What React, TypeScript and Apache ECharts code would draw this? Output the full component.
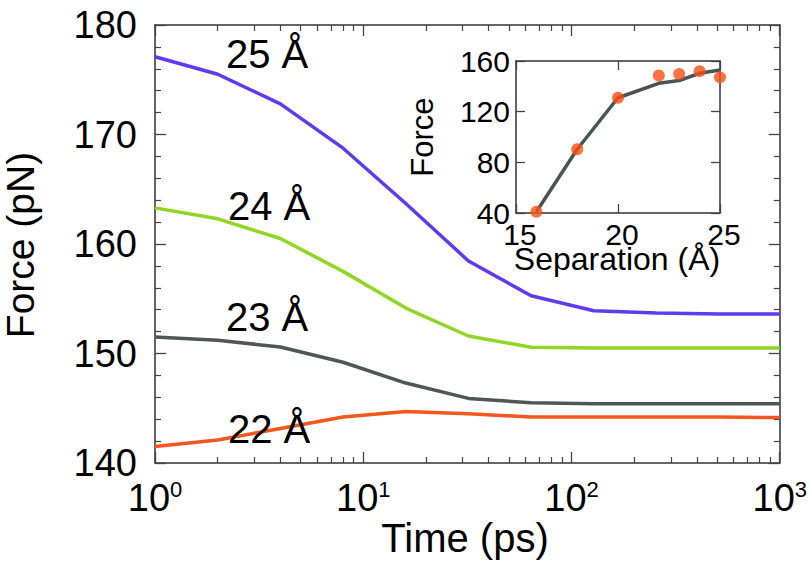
import React, { useEffect, useRef } from "react";
import * as echarts from "echarts";

const timePs = [1, 2, 4, 8, 16, 32, 64, 128, 256, 512, 1000];
const force25 = [177.1, 175.5, 172.8, 168.75, 163.7, 158.45, 155.27, 153.9, 153.7, 153.6, 153.6];
const force24 = [163.3, 162.3, 160.5, 157.5, 154.15, 151.6, 150.57, 150.5, 150.5, 150.5, 150.5];
const force23 = [151.5, 151.2, 150.6, 149.2, 147.3, 145.9, 145.5, 145.4, 145.4, 145.4, 145.4];
const force22 = [141.5, 142.1, 143.15, 144.2, 144.7, 144.5, 144.2, 144.2, 144.2, 144.2, 144.15];

const separation = [16, 18, 20, 22, 23, 24, 25];
const insetLine = [41, 90.3, 131, 142.4, 144.6, 150.3, 152.9];
const insetPoints = [41, 90.3, 131, 148.5, 149.7, 152, 147.1];

const seriesNames = ["25 Å", "24 Å", "23 Å", "22 Å"];
const seriesColors = ["#5b3cf0", "#8fd626", "#4f5756", "#f4561c"];

const FONT = "'Liberation Sans', Arial, Helvetica, sans-serif";
const AXIS_COLOR = "#333";
const TICK_COLOR = "#444";

export default function App() {
  const ref = useRef<HTMLDivElement>(null);
  useEffect(() => {
    if (!ref.current) return;
    const chart = echarts.init(ref.current, null, { renderer: "svg" });
    const mainData = [force25, force24, force23, force22];

    const logAxisBase = (position: "bottom" | "top", showLabel: boolean) => ({
      type: "log",
      logBase: 10,
      min: 1,
      max: 1000,
      gridIndex: 0,
      position,
      axisLine: { show: true, lineStyle: { color: AXIS_COLOR, width: 1.5 } },
      axisTick: { show: true, inside: true, length: 11, lineStyle: { color: TICK_COLOR, width: 1.3 } },
      minorTick: { show: true, splitNumber: 9, length: 6, lineStyle: { color: TICK_COLOR, width: 1.2 } },
      splitLine: { show: false },
      minorSplitLine: { show: false },
      axisLabel: {
        show: showLabel,
        margin: 15,
        formatter: (v: number) => `{a|10}{b|${Math.round(Math.log10(v))}}`,
        rich: {
          a: { fontSize: 38, fontFamily: FONT, color: "#000", lineHeight: 40 },
          b: { fontSize: 22, fontFamily: FONT, color: "#000", lineHeight: 30, verticalAlign: "top" },
        },
      },
    });

    const yMain = (position: "left" | "right", showLabel: boolean) => ({
      type: "value",
      min: 140,
      max: 180,
      interval: 10,
      gridIndex: 0,
      position,
      axisLine: { show: true, lineStyle: { color: AXIS_COLOR, width: 1.5 } },
      axisTick: { show: true, inside: true, length: 11, lineStyle: { color: TICK_COLOR, width: 1.3 } },
      minorTick: { show: true, splitNumber: 5, length: 6, lineStyle: { color: TICK_COLOR, width: 1.2 } },
      splitLine: { show: false },
      axisLabel: {
        show: showLabel,
        margin: 18,
        fontSize: 38,
        fontFamily: FONT,
        color: "#000",
        padding: [0, 0, 8, 0],
      },
    });

    const insetX = (position: "bottom" | "top", showLabel: boolean) => ({
      type: "value",
      min: 15,
      max: 25,
      interval: 5,
      gridIndex: 1,
      position,
      axisLine: { show: true, lineStyle: { color: AXIS_COLOR, width: 1.5 } },
      axisTick: { show: true, inside: true, length: 9, lineStyle: { color: TICK_COLOR, width: 1.3 } },
      splitLine: { show: false },
      axisLabel: {
        show: showLabel,
        margin: 6,
        fontSize: 30,
        fontFamily: FONT,
        color: "#000",
        padding: [0, 0, 0, 8],
      },
    });

    const insetY = (position: "left" | "right", showLabel: boolean) => ({
      type: "value",
      min: 40,
      max: 160,
      interval: 40,
      gridIndex: 1,
      position,
      axisLine: { show: true, lineStyle: { color: AXIS_COLOR, width: 1.5 } },
      axisTick: { show: true, inside: true, length: 9, lineStyle: { color: TICK_COLOR, width: 1.3 } },
      splitLine: { show: false },
      axisLabel: {
        show: showLabel,
        margin: 6,
        fontSize: 30,
        fontFamily: FONT,
        color: "#000",
        padding: [0, 0, 8, 0],
      },
    });

    const labelPos = [
      { x: 226, y: 54 },
      { x: 228, y: 206 },
      { x: 226, y: 317 },
      { x: 228, y: 429 },
    ];

    chart.setOption({
      animation: false,
      backgroundColor: "#fff",
      grid: [
        { left: 155, right: 30, top: 25, bottom: 100 },
        { left: 516, top: 61, width: 204, height: 152 },
      ],
      xAxis: [
        logAxisBase("bottom", true),
        logAxisBase("top", false),
        insetX("bottom", true),
        insetX("top", false),
      ],
      yAxis: [
        yMain("left", true),
        yMain("right", false),
        insetY("left", true),
        insetY("right", false),
      ],
      series: [
        ...mainData.map((d, i) => ({
          name: seriesNames[i],
          type: "line",
          xAxisIndex: 0,
          yAxisIndex: 0,
          data: timePs.map((t, j) => [t, d[j]]),
          showSymbol: false,
          symbol: "none",
          lineStyle: { color: seriesColors[i], width: 3.5 },
          z: 3,
        })),
        {
          name: "inset line",
          type: "line",
          xAxisIndex: 2,
          yAxisIndex: 2,
          data: separation.map((s, j) => [s, insetLine[j]]),
          symbol: "none",
          lineStyle: { color: "#4a5453", width: 3.5 },
          z: 4,
        },
        {
          name: "inset points",
          type: "scatter",
          xAxisIndex: 2,
          yAxisIndex: 2,
          data: separation.map((s, j) => [s, insetPoints[j]]),
          symbol: "circle",
          symbolSize: 12,
          itemStyle: { color: "#fb4f14" },
          z: 5,
        },
      ],
      graphic: [
        ...seriesNames.map((n, i) => ({
          type: "text",
          x: labelPos[i].x,
          y: labelPos[i].y,
          style: {
            text: n,
            fontSize: 40,
            fontFamily: FONT,
            fill: "#000",
            align: "left",
            verticalAlign: "middle",
          },
          z: 10,
        })),
        {
          type: "text",
          x: 20,
          y: 245,
          rotation: Math.PI / 2,
          style: {
            text: "Force (pN)",
            fontSize: 39,
            fontFamily: FONT,
            fill: "#000",
            align: "center",
            verticalAlign: "middle",
          },
        },
        {
          type: "text",
          x: 465,
          y: 538,
          style: {
            text: "Time (ps)",
            fontSize: 40,
            fontFamily: FONT,
            fill: "#000",
            align: "center",
            verticalAlign: "middle",
          },
        },
        {
          type: "text",
          x: 422,
          y: 137,
          rotation: Math.PI / 2,
          style: {
            text: "Force",
            fontSize: 31,
            fontFamily: FONT,
            fill: "#000",
            align: "center",
            verticalAlign: "middle",
          },
        },
        {
          type: "text",
          x: 617,
          y: 259,
          style: {
            text: "Separation (Å)",
            fontSize: 32,
            fontFamily: FONT,
            fill: "#000",
            align: "center",
            verticalAlign: "middle",
          },
        },
      ],
    });
    return () => chart.dispose();
  }, []);
  return (
    <div
      ref={ref}
      style={{ position: "fixed", left: 0, top: 0, width: 810, height: 563 }}
    />
  );
}
